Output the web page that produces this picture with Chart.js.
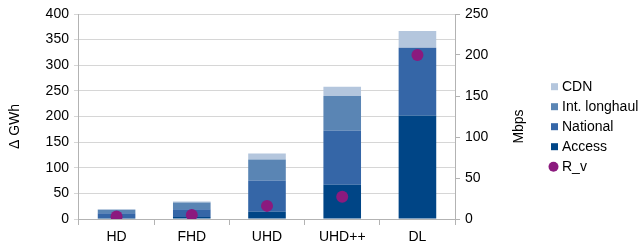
<!DOCTYPE html>
<html>
<head>
<meta charset="utf-8">
<script src="https://cdn.jsdelivr.net/npm/chart.js"></script>
<style>
  html, body { margin: 0; padding: 0; background: #fff; }
  #wrap { width: 642px; height: 249px; }
</style>
</head>
<body>
<div id="wrap"><canvas id="energyChart" width="642" height="249"></canvas></div>
<script>
const categories = ['HD', 'FHD', 'UHD', 'UHD++', 'DL'];
const access = [2, 4, 14, 67, 202];
const national = [9, 15, 61, 105, 132];
const longhaul = [7, 13, 41, 68, 0];
const cdn = [1, 2, 12, 18, 33];
const rateV = [3, 5, 16, 27, 200];
const legendOrder = ['CDN', 'Int. longhaul', 'National', 'Access', 'R_v'];

const fontFamily = 'Liberation Sans, Arial, sans-serif';
const font = { family: fontFamily, size: 14 };

// axis titles read bottom-to-top on both sides, plus the legend block on the right
const sideText = {
    id: 'sideText',
    afterDraw(chart) {
        const c = chart.ctx;
        c.save();
        c.font = '14px ' + fontFamily;
        c.fillStyle = '#000';
        c.textAlign = 'center';
        c.textBaseline = 'middle';
        [['Δ GWh', 15], ['Mbps', 519]].forEach(([t, x]) => {
            c.save();
            c.translate(x, 126.5);
            c.rotate(-Math.PI / 2);
            c.fillText(t, 0, 0);
            c.restore();
        });
        c.textAlign = 'left';
        legendOrder.forEach((name, i) => {
            const ds = chart.data.datasets.find(d => d.label === name);
            const y = 86.7 + i * 20;
            c.fillStyle = ds.backgroundColor;
            if (ds.type === 'line') {
                c.beginPath();
                c.arc(553.5, y, 5, 0, Math.PI * 2);
                c.fill();
            } else {
                c.fillRect(551, y - 3.5, 7, 7);
            }
            c.fillStyle = '#000';
            c.fillText(name, 562, y);
        });
        c.restore();
    }
};

const ctx = document.getElementById('energyChart').getContext('2d');

new Chart(ctx, {
    type: 'bar',
    data: {
        labels: categories,
        datasets: [
            { label: 'Access', data: access, backgroundColor: '#004586', stack: 's' },
            { label: 'National', data: national, backgroundColor: '#3566a7', stack: 's' },
            { label: 'Int. longhaul', data: longhaul, backgroundColor: '#5a85b4', stack: 's' },
            { label: 'CDN', data: cdn, backgroundColor: '#b4c6dd', stack: 's' },
            {
                type: 'line',
                label: 'R_v',
                data: rateV,
                yAxisID: 'y1',
                showLine: false,
                order: -1,
                pointRadius: 6,
                pointHoverRadius: 6,
                pointBackgroundColor: '#8b1a7e',
                pointBorderWidth: 0,
                borderColor: '#8b1a7e',
                backgroundColor: '#8b1a7e'
            }
        ]
    },
    options: {
        responsive: false,
        animation: false,
        layout: { padding: { top: 14, right: 148.6, bottom: 0, left: 40.6 } },
        datasets: {
            bar: { categoryPercentage: 1, barPercentage: 0.5 }
        },
        plugins: {
            tooltip: { enabled: false },
            legend: { display: false }
        },
        scales: {
            x: {
                stacked: true,
                ticks: { font: { family: fontFamily, size: 14, lineHeight: 1 }, color: '#000', padding: 5 },
                grid: { drawOnChartArea: false, offset: true, tickLength: 6, color: '#b3b3b3' },
                border: { color: '#b3b3b3' }
            },
            y: {
                stacked: true,
                min: 0,
                max: 400,
                ticks: { stepSize: 50, font: font, color: '#000', padding: 5 },
                grid: { color: '#d6d6d6', tickLength: 5 },
                border: { color: '#b3b3b3' }
            },
            y1: {
                position: 'right',
                stacked: false,
                min: 0,
                max: 250,
                ticks: { stepSize: 50, font: font, color: '#000', padding: 5 },
                grid: { drawOnChartArea: false, tickLength: 5, color: '#b3b3b3' },
                border: { color: '#b3b3b3' }
            }
        }
    },
    plugins: [sideText]
});
</script>
</body>
</html>
